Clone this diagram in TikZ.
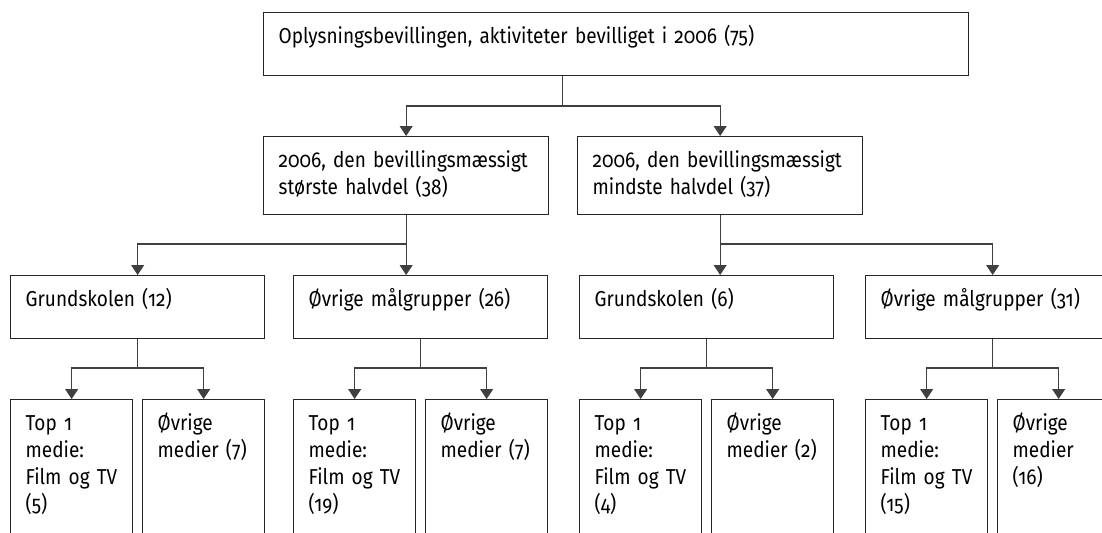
\documentclass[tikz,border=0pt]{standalone}
\usepackage{fontspec}
\setmainfont{Fira Sans}[Numbers=OldStyle, FakeStretch=0.88]
\usetikzlibrary{arrows.meta}

\begin{document}
\begin{tikzpicture}[x=0.5pt,y=-0.5pt,
    boks/.style={draw=black!85, line width=0.65pt, anchor=north west, align=left,
        inner xsep=7.5pt, inner ysep=0pt, text height=15.25pt,
        font=\fontsize{10.8}{13.5}\selectfont},
    hovedboks/.style={boks, text width=337.5pt, text depth=16.25pt},
    halvboks/.style={boks, text width=127.5pt, text depth=23.75pt},
    gruppeboks/.style={boks, text width=112pt, text depth=16.25pt},
    medieboks/.style={boks, text width=46pt, text depth=54.75pt},
    linje/.style={line width=0.55pt, draw=black!75},
    pil/.style={linje, -{Triangle[width=6.5pt,length=5pt]}}]
        \useasboundingbox (0,0) rectangle (1102,532);
        \clip (0,0) rectangle (1102,532);

        \node[hovedboks] (hoved) at (263,12) {Oplysningsbevillingen, aktiviteter bevilliget i 2006 (75)};

        \node[halvboks] (stor) at (263,136) {2006, den bevillingsmæssigt\\største halvdel (38)};
        \node[halvboks] (lille) at (577,136) {2006, den bevillingsmæssigt\\mindste halvdel (37)};

        \node[gruppeboks] (grund1) at (10,275) {Grundskolen (12)};
        \node[gruppeboks] (oevrig1) at (293,275) {Øvrige målgrupper (26)};
        \node[gruppeboks] (grund2) at (579,275) {Grundskolen (6)};
        \node[gruppeboks] (oevrig2) at (865,275) {Øvrige målgrupper (31)};

        \node[medieboks] (top1a) at (10,399) {Top 1\\medie:\\Film og TV\\(5)};
        \node[medieboks] (medA) at (142,399) {Øvrige\\medier (7)};
        \node[medieboks] (top1b) at (293,399) {Top 1\\medie:\\Film og TV\\(19)};
        \node[medieboks] (medB) at (425,399) {Øvrige\\medier (7)};
        \node[medieboks] (top1c) at (579,399) {Top 1\\medie:\\Film og TV\\(4)};
        \node[medieboks] (medC) at (711,399) {Øvrige\\medier (2)};
        \node[medieboks] (top1d) at (865,399) {Top 1\\medie:\\Film og TV\\(15)};
        \node[medieboks] (medD) at (997,399) {Øvrige\\medier\\(16)};

        \coordinate (k1) at (562.5,106);
        \coordinate (k2) at (405.5,244);
        \coordinate (k3) at (719.5,244);
        \coordinate (r4) at (0,368);

        \draw[linje] (hoved.south -| k1) -- (k1);
        \draw[pil] (k1) -| (stor);
        \draw[pil] (k1) -| (lille);

        \draw[pil] (stor) -- (stor |- oevrig1.north);
        \draw[pil] (k2) -| (grund1);
        \draw[pil] (lille) -- (lille |- grund2.north);
        \draw[pil] (k3) -| (oevrig2);

        \draw[linje] (grund1) -- (grund1 |- r4);
        \draw[pil] (grund1 |- r4) -| (top1a);
        \draw[pil] (grund1 |- r4) -| (medA);
        \draw[linje] (oevrig1) -- (oevrig1 |- r4);
        \draw[pil] (oevrig1 |- r4) -| (top1b);
        \draw[pil] (oevrig1 |- r4) -| (medB);
        \draw[linje] (grund2) -- (grund2 |- r4);
        \draw[pil] (grund2 |- r4) -| (top1c);
        \draw[pil] (grund2 |- r4) -| (medC);
        \draw[linje] (oevrig2) -- (oevrig2 |- r4);
        \draw[pil] (oevrig2 |- r4) -| (top1d);
        \draw[pil] (oevrig2 |- r4) -| (medD);

    \end{tikzpicture}
\end{document}
